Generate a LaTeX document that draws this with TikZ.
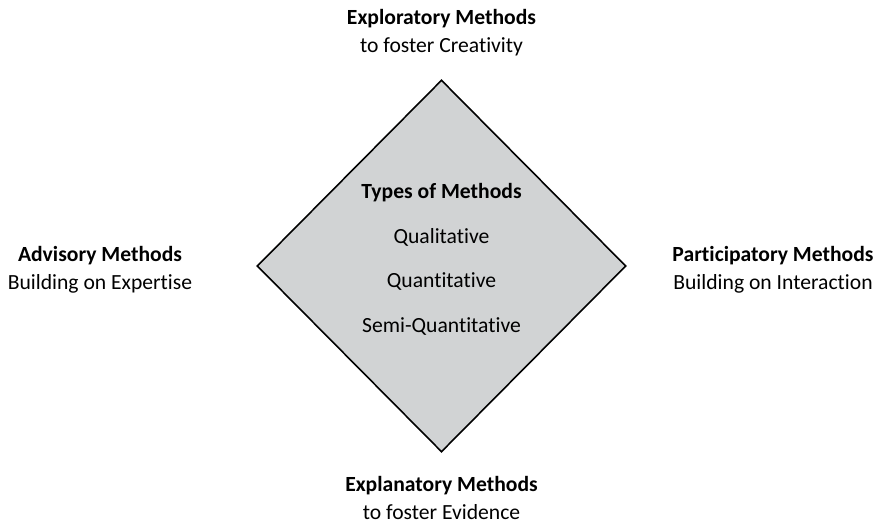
\documentclass[tikz,border=0pt]{standalone}
\usepackage{fontspec}
\setmainfont{Carlito}[Ligatures=NoCommon]
\usepackage{tikz}
\usetikzlibrary{shapes.geometric}
\definecolor{diamondgray}{RGB}{209,211,212}

\begin{document}
\begin{tikzpicture}[scale=0.2]
\tikzstyle{every node}+=[inner sep=0pt, font=\fontsize{12.3}{15.9}\selectfont]
\tikzstyle{side}=[align=center]
\useasboundingbox (0,0) rectangle (88,-52.8);
\node [diamond, draw=black, line width=0.9pt, fill=diamondgray, minimum width=7.38cm, minimum height=7.44cm] (core) at (44.15,-26.6) {};
\node (kind) at (44.15,-19.25) {\textbf{Types of Methods}};
\node (qual) at (44.15,-23.7) {Qualitative};
\node (quan) at (44.15,-28.1) {Quantitative};
\node (semi) at (44.15,-32.6) {Semi-Quantitative};
\node [side] (explo) at (44.15,-3.3) {\textbf{Exploratory Methods}\\to foster Creativity};
\node [side] (advis) at (10.0,-26.95) {\textbf{Advisory Methods}\\Building on Expertise};
\node [side] (parti) at (77.3,-26.95) {\textbf{Participatory Methods}\\Building on Interaction};
\node [side] (expla) at (44.15,-49.8) {\textbf{Explanatory Methods}\\to foster Evidence};
\end{tikzpicture}
\end{document}
